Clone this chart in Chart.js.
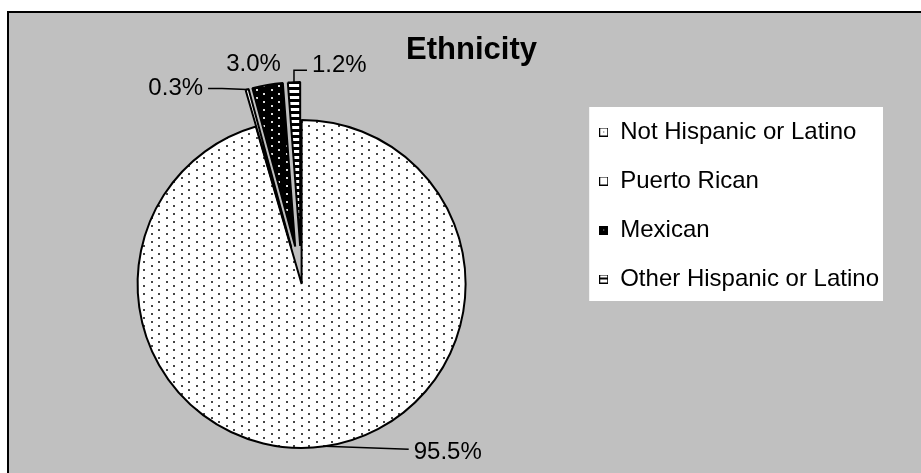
<!DOCTYPE html>
<html>
<head>
<meta charset="utf-8">
<script src="https://cdn.jsdelivr.net/npm/chart.js@4.4.0/dist/chart.umd.min.js"></script>
<style>
  html, body { margin: 0; padding: 0; background: #fff; overflow: hidden; }
  #wrap { width: 921px; height: 473px; position: relative; }
</style>
</head>
<body>
<div id="wrap"><canvas id="chart" width="921" height="473"></canvas></div>
<script>
const categories = ['Not Hispanic or Latino', 'Puerto Rican', 'Mexican', 'Other Hispanic or Latino'];
const percents = [95.5, 0.3, 3.0, 1.2];
const chartTitle = 'Ethnicity';

const FONT = "'Liberation Sans', Arial, sans-serif";
const LEGEND_SIZE = 24;
const LEGEND_PAD = 25;

// how far each slice is pulled out, and where its label sits relative to the slice edge
const explode = [0, 38, 38, 38];
const labelPlacement = [
  { dx: 89, dy: 6, align: 'left', leader: [[84, 3]] },
  { dx: -44, dy: -1, align: 'right', leader: [[-25, -1], [-39, -1]] },
  { dx: -14, dy: -21, align: 'center', leader: [] },
  { dx: 18, dy: -17, align: 'left', leader: [[0, -12], [13, -12]] }
];

const canvas = document.getElementById('chart');
const ctx = canvas.getContext('2d');

function tile(w, h, draw) {
  const c = document.createElement('canvas');
  c.width = w;
  c.height = h;
  draw(c.getContext('2d'));
  return c;
}

// fills
const dotsWhite = ctx.createPattern(tile(15, 8, g => {
  g.fillStyle = '#fff'; g.fillRect(0, 0, 15, 8);
  g.fillStyle = '#444'; g.fillRect(1, 1, 2, 2); g.fillRect(8, 5, 2, 2);
}), 'repeat');
const dotsBlack = ctx.createPattern(tile(15, 8, g => {
  g.fillStyle = '#000'; g.fillRect(0, 0, 15, 8);
  g.fillStyle = '#ddd'; g.fillRect(1, 1, 2, 2); g.fillRect(8, 5, 2, 2);
}), 'repeat');
const stripes = ctx.createPattern(tile(6, 6, g => {
  g.fillStyle = '#fff'; g.fillRect(0, 0, 6, 6);
  g.fillStyle = '#000'; g.fillRect(0, 3, 6, 3);
}), 'repeat');
const fills = [dotsWhite, '#fff', dotsBlack, stripes];

// legend markers
const markers = [
  tile(9, 9, g => { g.fillStyle = '#000'; g.fillRect(0, 0, 9, 9); g.fillStyle = '#fff'; g.fillRect(1, 1, 7, 7); g.fillStyle = '#333'; g.fillRect(4, 4, 1, 1); }),
  tile(9, 9, g => { g.fillStyle = '#000'; g.fillRect(0, 0, 9, 9); g.fillStyle = '#fff'; g.fillRect(1, 1, 7, 7); }),
  tile(9, 9, g => { g.fillStyle = '#000'; g.fillRect(0, 0, 9, 9); g.fillStyle = '#ccc'; g.fillRect(4, 4, 1, 1); }),
  tile(9, 9, g => { g.fillStyle = '#000'; g.fillRect(0, 0, 9, 9); g.fillStyle = '#fff'; g.fillRect(1, 1, 7, 2); g.fillRect(1, 5, 7, 3); })
];

const sheet = {
  id: 'sheet',
  beforeDraw(chart) {
    const { ctx, width, height } = chart;
    ctx.save();
    ctx.fillStyle = '#fff';
    ctx.fillRect(0, 0, width, height);
    ctx.fillStyle = '#c0c0c0';
    ctx.fillRect(8, 12, width, height);
    ctx.strokeStyle = '#000';
    ctx.lineWidth = 2;
    ctx.beginPath();
    ctx.moveTo(8, height + 5);
    ctx.lineTo(8, 12);
    ctx.lineTo(width + 5, 12);
    ctx.stroke();

    // white panel behind the legend
    const lg = chart.legend;
    const n = categories.length;
    const x0 = lg.left + LEGEND_PAD - 10;
    const y0 = lg.top + LEGEND_PAD - 13;
    const y1 = lg.top + LEGEND_PAD + n * (LEGEND_SIZE + LEGEND_PAD) - LEGEND_PAD + 10;
    ctx.fillStyle = '#fff';
    ctx.fillRect(x0, y0, lg.right - 6 - x0, y1 - y0);
    ctx.restore();
  },
  afterDatasetUpdate(chart, args) {
    args.meta.data.forEach((arc, i) => {
      const mid = (arc.startAngle + arc.endAngle) / 2;
      arc.x += Math.cos(mid) * explode[i];
      arc.y += Math.sin(mid) * explode[i];
    });
  },
  afterDatasetsDraw(chart) {
    const { ctx } = chart;
    const arcs = chart.getDatasetMeta(0).data;
    ctx.save();
    ctx.fillStyle = '#000';
    ctx.strokeStyle = '#000';
    ctx.lineWidth = 1.5;
    ctx.font = '24px ' + FONT;
    ctx.textBaseline = 'middle';
    arcs.forEach((arc, i) => {
      const mid = (arc.startAngle + arc.endAngle) / 2;
      const ax = arc.x + Math.cos(mid) * arc.outerRadius;
      const ay = arc.y + Math.sin(mid) * arc.outerRadius;
      const p = labelPlacement[i];
      if (p.leader.length) {
        ctx.beginPath();
        ctx.moveTo(ax, ay);
        p.leader.forEach(([dx, dy]) => ctx.lineTo(ax + dx, ay + dy));
        ctx.stroke();
      }
      ctx.textAlign = p.align;
      ctx.fillText(percents[i].toFixed(1) + '%', ax + p.dx, ay + p.dy);
    });
    ctx.font = 'bold 31px ' + FONT;
    ctx.textAlign = 'center';
    ctx.textBaseline = 'alphabetic';
    ctx.fillText(chartTitle, 471.5, 59);
    ctx.restore();
  }
};

new Chart(canvas, {
  type: 'pie',
  data: {
    labels: categories,
    datasets: [{
      data: percents,
      backgroundColor: fills,
      borderColor: '#000',
      borderWidth: 2,
      radius: 164
    }]
  },
  options: {
    responsive: false,
    animation: false,
    events: [],
    layout: { padding: { left: 29, right: 32, top: 95, bottom: -4 } },
    plugins: {
      title: { display: false },
      tooltip: { enabled: false },
      legend: {
        position: 'right',
        align: 'start',
        labels: {
          usePointStyle: true,
          boxWidth: 9,
          boxHeight: 9,
          padding: LEGEND_PAD,
          color: '#000',
          font: { family: FONT, size: LEGEND_SIZE },
          generateLabels: () => categories.map((c, i) => ({
            text: c,
            pointStyle: markers[i],
            fillStyle: fills[i],
            strokeStyle: '#000',
            lineWidth: 0,
            hidden: false,
            index: i
          }))
        }
      }
    }
  },
  plugins: [sheet]
});
</script>
</body>
</html>
